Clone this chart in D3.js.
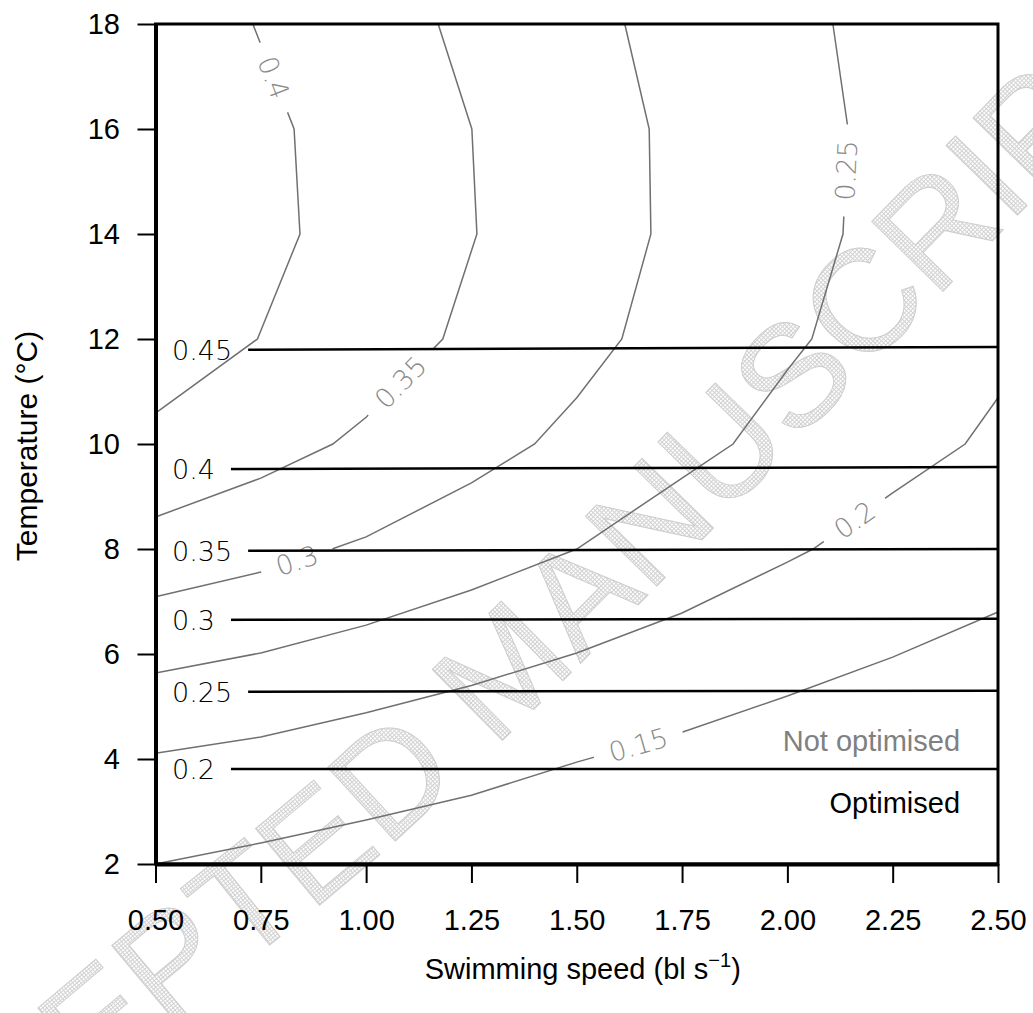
<!DOCTYPE html>
<html><head><meta charset="utf-8">
<script src="https://cdn.jsdelivr.net/npm/d3@7"></script>
<style>body{margin:0;background:#fff}svg{display:block}</style>
</head><body>
<svg id="c" width="1033" height="1013"></svg>
<script>
// ---------- data ----------
const speedTicks = [0.50, 0.75, 1.00, 1.25, 1.50, 1.75, 2.00, 2.25, 2.50];
const tempTicks = [2, 4, 6, 8, 10, 12, 14, 16, 18];

// optimised (black) contours: temperature at 0.5 and 2.5 bl/s
const optLevels = ["0.45", "0.4", "0.35", "0.3", "0.25", "0.2"];
const optTempLeft = [11.79, 9.52, 7.96, 6.65, 5.28, 3.81];
const optTempRight = [11.85, 9.56, 8.00, 6.67, 5.30, 3.81];

// not optimised (grey) contours
const contourLevels = ["0.4", "0.35", "0.3", "0.25", "0.2", "0.15"];
const contourSpeed = [
  [0.50, 0.742, 0.843, 0.829, 0.731],
  [0.50, 0.75, 0.921, 1.00, 1.182, 1.263, 1.251, 1.171],
  [0.50, 0.75, 0.919, 1.00, 1.25, 1.40, 1.50, 1.607, 1.676, 1.672, 1.614],
  [0.50, 0.75, 1.00, 1.25, 1.50, 1.75, 1.871, 2.00, 2.058, 2.132, 2.144, 2.108],
  [0.50, 0.75, 1.00, 1.25, 1.50, 1.75, 2.00, 2.061, 2.25, 2.422, 2.50],
  [0.50, 0.75, 1.00, 1.25, 1.50, 1.75, 2.00, 2.25, 2.50]
];
const contourTemp = [
  [10.59, 12, 14, 16, 18],
  [8.61, 9.35, 10, 10.51, 12, 14, 16, 18],
  [7.09, 7.56, 8, 8.23, 9.26, 10, 10.88, 12, 14, 16, 18],
  [5.64, 6.02, 6.55, 7.22, 8.0, 9.35, 10.0, 11.41, 12, 14, 16, 18],
  [4.11, 4.42, 4.88, 5.40, 6.02, 6.78, 7.75, 8.0, 9.07, 10.0, 10.88],
  [2.00, 2.40, 2.84, 3.31, 3.94, 4.51, 5.20, 5.94, 6.80]
];
const contourLabelSpeed = [0.777, 1.081, 0.836, 2.164, 2.163, 1.645];
const contourLabelTemp = [16.97, 11.18, 7.77, 15.2, 8.51, 4.30];

const legendTexts = ["Not optimised", "Optimised"];
const legendSpeed = [2.41, 2.41];
const legendTemp = [4.15, 2.97];

const watermarkText = "ACCEPTED MANUSCRIPT";

// ---------- setup ----------
const W = 1033, H = 1013;
const svg = d3.select("#c");
const defs = svg.append("defs");
const x = d3.scaleLinear().domain([0.5, 2.5]).range([155.5, 998]);
const y = d3.scaleLinear().domain([2, 18]).range([864, 24]);

const labelFont = "'DejaVu Sans ExtraLight','DejaVu Sans',sans-serif";
const axisFont = "'Liberation Sans',Arial,Helvetica,sans-serif";
const FS = 29;
const greyLine = "#707070";
const PAD = 16;

// ---------- watermark (letters placed along a gentle arc) ----------
const pat = defs.append("pattern").attr("id", "hatch")
  .attr("patternUnits", "userSpaceOnUse").attr("width", 3).attr("height", 3);
pat.append("path").attr("d", "M0,0.5H3M0.5,0V3")
  .attr("stroke", "#d2d2d2").attr("stroke-width", 1).attr("fill", "none");
const wmPath = defs.append("path")
  .attr("d", d3.line().curve(d3.curveCatmullRom.alpha(0.5))(
    [[-175, 1249], [170, 959], [390, 775], [935, 225], [1250, -100]]));
const wmNode = wmPath.node();
const gWm = svg.append("g");
let L = 0;
const wmSize = 145;
for (const ch of watermarkText) {
  const t = gWm.append("text").attr("font-family", axisFont).attr("font-size", wmSize)
    .attr("text-anchor", "middle").attr("dy", "0.36em")
    .attr("fill", "url(#hatch)").attr("stroke", "#cdcdcd").attr("stroke-width", 1)
    .text(ch === " " ? "" : ch);
  const w = ch === " " ? 0.278 * wmSize : t.node().getComputedTextLength();
  const c = L + w / 2;
  const p = wmNode.getPointAtLength(c);
  const p0 = wmNode.getPointAtLength(Math.max(0, c - 2));
  const p1 = wmNode.getPointAtLength(c + 2);
  const a = Math.atan2(p1.y - p0.y, p1.x - p0.x) * 180 / Math.PI;
  t.attr("transform", `translate(${p.x},${p.y}) rotate(${a})`);
  if (ch === " " || p.x < -20 || p.x > W + 20 || p.y > H + 20 || p.y < -20) t.remove();
  L += w;
}

// ---------- grey contours ----------
const lineGen = d3.line().x(d => x(d[0])).y(d => y(d[1]));
const gGrey = svg.append("g");
contourLevels.forEach((lev, i) => {
  const pts = contourSpeed[i].map((s, k) => [s, contourTemp[i][k]]);
  const px = pts.map(p => [x(p[0]), y(p[1])]);
  const lx = x(contourLabelSpeed[i]), ly = y(contourLabelTemp[i]);
  let best = null;
  for (let k = 0; k < px.length - 1; k++) {
    const [ax, ay] = px[k], [bx, by] = px[k + 1];
    const dx = bx - ax, dy = by - ay;
    let t = ((lx - ax) * dx + (ly - ay) * dy) / (dx * dx + dy * dy);
    t = Math.max(0, Math.min(1, t));
    const qx = ax + t * dx, qy = ay + t * dy;
    const d = (qx - lx) ** 2 + (qy - ly) ** 2;
    if (!best || d < best.d) best = {d, qx, qy, ang: Math.atan2(dy, dx) * 180 / Math.PI};
  }
  let ang = best.ang;
  if (ang > 90) ang -= 180;
  if (ang <= -90) ang += 180;
  const tf = `translate(${best.qx},${best.qy}) rotate(${ang})`;
  const txt = gGrey.append("text")
    .attr("transform", tf).attr("text-anchor", "middle").attr("dy", "0.36em")
    .attr("font-family", labelFont).attr("font-weight", 200).attr("font-size", 27)
    .attr("fill", "#8a8a8a").text(lev);
  const w = txt.node().getComputedTextLength();
  const m = defs.append("mask").attr("id", "gm" + i)
    .attr("maskUnits", "userSpaceOnUse").attr("x", 0).attr("y", 0).attr("width", W).attr("height", H);
  m.append("rect").attr("width", W).attr("height", H).attr("fill", "white");
  m.append("rect").attr("transform", tf)
    .attr("x", -w / 2 - PAD).attr("y", -14).attr("width", w + 2 * PAD).attr("height", 28)
    .attr("fill", "black");
  gGrey.insert("path", "text").attr("d", lineGen(pts)).attr("fill", "none")
    .attr("stroke", greyLine).attr("stroke-width", 1.5).attr("mask", `url(#gm${i})`);
});

// ---------- optimised (black) contours ----------
const gOpt = svg.append("g");
optLevels.forEach((lev, i) => {
  const pts = [[0.5, optTempLeft[i]], [2.5, optTempRight[i]]];
  const tx = x(0.5) + 16.5, ty = y(optTempLeft[i]);
  const txt = gOpt.append("text").attr("x", tx).attr("y", ty).attr("dy", "0.36em")
    .attr("font-family", labelFont).attr("font-weight", 200).attr("font-size", 27)
    .attr("fill", "#000").text(lev);
  const w = txt.node().getComputedTextLength();
  const m = defs.append("mask").attr("id", "om" + i)
    .attr("maskUnits", "userSpaceOnUse").attr("x", 0).attr("y", 0).attr("width", W).attr("height", H);
  m.append("rect").attr("width", W).attr("height", H).attr("fill", "white");
  m.append("rect").attr("x", x(0.5) - 2).attr("y", ty - 14)
    .attr("width", tx + w + PAD - x(0.5) + 2).attr("height", 28).attr("fill", "black");
  gOpt.append("path").attr("d", lineGen(pts)).attr("fill", "none")
    .attr("stroke", "#000").attr("stroke-width", 2.5).attr("mask", `url(#om${i})`);
});

// ---------- legend texts ----------
svg.selectAll("text.leg").data(legendTexts).join("text").attr("class", "leg")
  .attr("x", (d, i) => x(legendSpeed[i])).attr("y", (d, i) => y(legendTemp[i]))
  .attr("text-anchor", "end").attr("font-family", axisFont).attr("font-size", FS)
  .attr("fill", (d, i) => i === 0 ? "#808080" : "#000").text(d => d);

// ---------- frame & axes ----------
svg.append("rect").attr("x", x(0.5)).attr("y", y(18))
  .attr("width", x(2.5) - x(0.5)).attr("height", y(2) - y(18))
  .attr("fill", "none").attr("stroke", "#000").attr("stroke-width", 3);

const xAxis = svg.append("g").attr("transform", `translate(0,${y(2)})`)
  .call(d3.axisBottom(x).tickValues(speedTicks).tickFormat(d3.format(".2f"))
    .tickSize(19).tickSizeOuter(0).tickPadding(26.4));
const yAxis = svg.append("g").attr("transform", `translate(${x(0.5)},0)`)
  .call(d3.axisLeft(y).tickValues(tempTicks).tickFormat(d3.format("d"))
    .tickSize(18).tickSizeOuter(0).tickPadding(17.5));
[xAxis, yAxis].forEach(a => {
  a.select(".domain").attr("stroke-width", 4).attr("stroke", "#000");
  a.selectAll(".tick line").attr("stroke-width", 2).attr("stroke", "#000");
  a.selectAll(".tick text").attr("font-family", axisFont).attr("font-size", FS).attr("fill", "#000");
});

// axis titles
const xt = svg.append("text").attr("x", (x(0.5) + x(2.5)) / 2 + 6).attr("y", 979)
  .attr("text-anchor", "middle").attr("font-family", axisFont).attr("font-size", FS);
xt.append("tspan").text("Swimming speed (bl s");
xt.append("tspan").attr("dy", -12).attr("font-size", 20).text("\u22121");
xt.append("tspan").attr("dy", 12).text(")");

svg.append("text").attr("transform", `translate(37,${(y(2) + y(18)) / 2 + 2}) rotate(-90)`)
  .attr("text-anchor", "middle").attr("font-family", axisFont).attr("font-size", 30)
  .text("Temperature (\u00B0C)");
</script>
</body></html>
